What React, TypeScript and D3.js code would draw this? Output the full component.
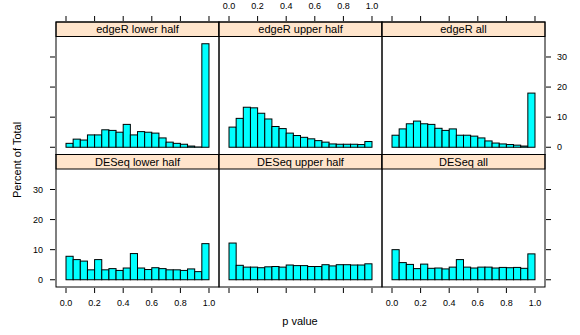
import * as d3 from 'd3';

const panelNames = [
  ['edgeR lower half', 'edgeR upper half', 'edgeR all'],
  ['DESeq lower half', 'DESeq upper half', 'DESeq all'],
];

// percent of total per 0.05-wide bin of p value
const edgeRLower = [1.3, 2.7, 2.4, 4.1, 4.1, 5.8, 5.6, 5.0, 7.6, 4.1, 5.2, 5.0, 4.7, 3.1, 1.7, 1.3, 1.0, 0.4, 0.1, 34.4];
const edgeRUpper = [6.7, 9.6, 13.3, 13.1, 11.3, 9.4, 6.9, 6.2, 4.7, 3.9, 3.3, 2.8, 2.2, 1.7, 1.1, 1.0, 1.0, 1.0, 0.9, 1.9];
const edgeRAll = [4.0, 6.1, 7.8, 8.7, 7.8, 7.6, 6.3, 5.6, 6.1, 4.0, 4.0, 3.7, 3.1, 2.1, 1.4, 1.1, 0.9, 0.7, 0.4, 18.0];
const deseqLower = [7.8, 6.7, 6.2, 3.3, 6.7, 3.3, 3.7, 3.1, 3.9, 8.7, 3.9, 3.4, 4.0, 3.7, 3.3, 3.3, 3.1, 3.6, 2.7, 12.0];
const deseqUpper = [12.2, 4.8, 4.2, 4.2, 4.0, 4.3, 4.4, 4.2, 4.9, 4.7, 4.7, 4.4, 4.4, 5.0, 4.6, 5.0, 5.0, 4.9, 4.9, 5.3];
const deseqAll = [10.0, 5.7, 5.1, 3.7, 5.2, 3.8, 3.9, 3.6, 4.2, 6.7, 4.2, 3.9, 4.2, 4.2, 3.9, 4.1, 4.0, 4.1, 3.8, 8.6];

const xTicks = [0, 0.2, 0.4, 0.6, 0.8, 1.0];
const yTicks = [0, 10, 20, 30];

const panelData = [
  [edgeRLower, edgeRUpper, edgeRAll],
  [deseqLower, deseqUpper, deseqAll],
];

const font = 'Liberation Sans, Arial, Helvetica, sans-serif';

const App = () => {
  const W = 580;
  const H = 335;
  const colLeft = [56, 219, 382];
  const colW = 163;
  const rowTop = [22, 154.5];
  const rowH = 132.5;
  const stripH = 14.5;
  const nBins = 20;

  const maxVal = d3.max(panelData.flat(2)) as number;
  const yDomain: [number, number] = [-0.07 * maxVal, 1.07 * maxVal];

  const xScale = (c: number) => d3.scaleLinear().domain([-0.07, 1.07]).range([colLeft[c], colLeft[c] + colW]);
  const yScale = (r: number) => d3.scaleLinear().domain(yDomain).range([rowTop[r] + rowH, rowTop[r] + stripH]);

  const tickLen = 5;
  const top = rowTop[0];
  const bottom = rowTop[1] + rowH;
  const left = colLeft[0];
  const right = colLeft[2] + colW;

  return (
    <svg width={W} height={H} style={{ position: 'absolute', left: 0, top: 0, background: '#fff' }} fontFamily={font}>
      {panelData.map((row, r) =>
        row.map((vals, c) => {
          const x = xScale(c);
          const y = yScale(r);
          const binW = 1 / nBins;
          return (
            <g key={`${r}-${c}`}>
              {vals.map((v, i) => (
                <rect
                  key={i}
                  x={x(i * binW)}
                  y={y(v)}
                  width={x((i + 1) * binW) - x(i * binW)}
                  height={y(0) - y(v)}
                  fill="#00FFFF"
                  stroke="#000"
                  strokeWidth={1}
                />
              ))}
              <rect x={colLeft[c]} y={rowTop[r]} width={colW} height={stripH} fill="#FFE5CC" stroke="#000" strokeWidth={1} />
              <text x={colLeft[c] + colW / 2} y={rowTop[r] + stripH / 2} dy="0.36em" textAnchor="middle" fontSize={11} fill="#000">
                {panelNames[r][c]}
              </text>
              <rect x={colLeft[c]} y={rowTop[r]} width={colW} height={rowH} fill="none" stroke="#000" strokeWidth={1} />
            </g>
          );
        })
      )}

      {/* top and bottom axes */}
      {[0, 1, 2].map(c => {
        const x = xScale(c);
        return (
          <g key={`xa${c}`}>
            {xTicks.map(t => (
              <g key={t}>
                <line x1={x(t)} x2={x(t)} y1={top - 1} y2={top - 1 - tickLen} stroke="#000" />
                <line x1={x(t)} x2={x(t)} y1={bottom + 1} y2={bottom + 1 + tickLen} stroke="#000" />
                {c === 1 && (
                  <text x={x(t)} y={6} dy="0.36em" textAnchor="middle" fontSize={9} fill="#000">{d3.format('.1f')(t)}</text>
                )}
                {c !== 1 && (
                  <text x={x(t)} y={303} dy="0.36em" textAnchor="middle" fontSize={9} fill="#000">{d3.format('.1f')(t)}</text>
                )}
              </g>
            ))}
          </g>
        );
      })}

      {/* left and right axes */}
      {[0, 1].map(r => {
        const y = yScale(r);
        return (
          <g key={`ya${r}`}>
            {yTicks.map(t => (
              <g key={t}>
                <line x1={left - 1} x2={left - 1 - tickLen} y1={y(t)} y2={y(t)} stroke="#000" />
                <line x1={right + 1} x2={right + 1 + tickLen} y1={y(t)} y2={y(t)} stroke="#000" />
                {r === 1 && (
                  <text x={43} y={y(t)} dy="0.36em" textAnchor="end" fontSize={9} fill="#000">{t}</text>
                )}
                {r === 0 && (
                  <text x={557} y={y(t)} dy="0.36em" textAnchor="start" fontSize={9} fill="#000">{t}</text>
                )}
              </g>
            ))}
          </g>
        );
      })}

      <text x={300} y={321} dy="0.36em" textAnchor="middle" fontSize={11} fill="#000">p value</text>
      <text transform="translate(17,160) rotate(-90)" dy="0.36em" textAnchor="middle" fontSize={11} fill="#000">Percent of Total</text>
    </svg>
  );
};

export default App;
